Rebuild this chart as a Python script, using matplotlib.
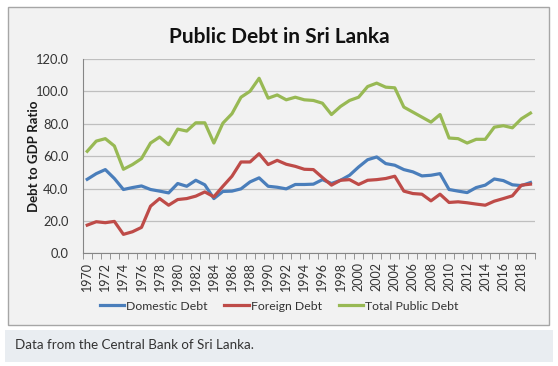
import numpy as np
import matplotlib.pyplot as plt
from matplotlib.patches import Rectangle

# ---------- Datos ----------
years = np.arange(1970, 2020)

domestic = [45.7, 49.2, 51.7, 46.2, 39.4, 40.6, 41.6, 39.4, 38.4, 37.3,
            43.1, 41.4, 45.1, 42.3, 33.8, 38.2, 38.4, 39.8, 44.1, 46.6,
            41.4, 40.8, 39.8, 42.5, 42.5, 42.7, 45.5, 43.1, 45.1, 48.2,
            53.3, 57.8, 59.5, 55.4, 54.4, 51.7, 50.3, 47.8, 48.2, 49.2,
            39.4, 38.4, 37.5, 40.6, 42.1, 45.9, 44.9, 42.3, 41.8, 43.7]

foreign = [17.4, 19.5, 18.9, 19.7, 11.7, 13.3, 16.0, 29.1, 33.8, 29.7,
           33.2, 33.8, 35.3, 37.9, 34.9, 41.4, 47.6, 56.4, 56.4, 61.5,
           54.8, 57.4, 55.0, 53.7, 51.9, 51.7, 46.8, 42.1, 45.1, 45.5,
           42.5, 45.1, 45.5, 46.2, 47.6, 38.4, 36.9, 36.5, 32.4, 36.5,
           31.4, 31.8, 31.2, 30.4, 29.7, 32.2, 33.8, 35.5, 42.1, 42.7]

total = [63.0, 69.3, 70.8, 66.3, 51.9, 54.8, 58.5, 68.1, 71.8, 67.1,
         76.7, 75.5, 80.6, 80.6, 68.1, 80.4, 86.2, 96.4, 100.1, 108.1,
         95.8, 97.8, 94.8, 96.4, 94.8, 94.4, 92.7, 85.7, 90.7, 94.4,
         96.4, 103.0, 105.1, 102.6, 102.2, 90.3, 87.2, 84.1, 81.0, 85.7,
         71.2, 70.8, 68.1, 70.4, 70.4, 77.9, 78.8, 77.5, 83.1, 86.6]

series_names = ["Domestic Debt", "Foreign Debt", "Total Public Debt"]
colors = ["#4a7ebb", "#be4b48", "#98b954"]

plt.rcParams['font.family'] = ['Lato', 'DejaVu Sans']

fig = plt.figure(figsize=(5.58, 3.66), dpi=100)
fig.patch.set_facecolor("white")

# ---------- Marco del gráfico y pie ----------
fig.patches.append(Rectangle((7.5 / 558, 1 - 325 / 366), 541 / 558, 318 / 366,
                             transform=fig.transFigure, facecolor="#f2f2f2",
                             edgecolor="#a6a6a6", linewidth=1.0, zorder=-10))
fig.patches.append(Rectangle((5 / 558, 1 - 362 / 366), 548 / 558, 32 / 366,
                             transform=fig.transFigure, facecolor="#e9edf1",
                             edgecolor="none", zorder=-10))
fig.text(15 / 558, 1 - 345 / 366, "Data from the Central Bank of Sri Lanka.",
         fontsize=9.6, color="#333333", va="center", ha="left")

# ---------- Ejes ----------
ax = fig.add_axes([82.7 / 558, 1 - 253.3 / 366, (535 - 82.7) / 558, (253.3 - 59) / 366])
ax.set_facecolor("none")

for vals, name, col in zip([domestic, foreign, total], series_names, colors):
    ax.plot(years, vals, color=col, lw=2.3, label=name, solid_joinstyle="round")

ax.set_xlim(1969.5, 2019.5)
ax.set_ylim(0, 120)
ax.set_yticks(np.arange(0, 121, 20))
ax.set_yticklabels([f"{v:.1f}" for v in np.arange(0, 121, 20)], fontsize=9.3, color="#333333")
ax.yaxis.grid(True, color="#bfbfbf", lw=0.9)
ax.set_axisbelow(True)
ax.tick_params(axis="y", length=0, pad=10)

ax.set_xticks(years[::2])
ax.set_xticklabels([str(y) for y in years[::2]], rotation=90, fontsize=9, color="#333333")
ax.set_xticks(np.arange(1969.5, 2020, 1), minor=True)
ax.tick_params(axis="x", which="major", length=0, pad=6)
ax.tick_params(axis="x", which="minor", length=4, color="#868686", direction="out")

for s in ["top", "right"]:
    ax.spines[s].set_visible(False)
ax.spines["left"].set_color("#868686")
ax.spines["bottom"].set_color("#868686")

ax.set_ylabel("Debt to GDP Ratio", fontsize=9.5, fontweight="bold", color="#1a1a1a")
ax.yaxis.set_label_coords((40 - 82.7) / 452.3, 0.5)

fig.text(0.5, 1 - 37 / 366, "Public Debt in Sri Lanka", fontsize=15, fontweight="bold",
         ha="center", va="center", color="#111111")

fig.legend(loc="center", bbox_to_anchor=(0.5, 1 - 306 / 366), ncol=3, frameon=False,
           fontsize=8.8, handlelength=2.0, handletextpad=0.15, columnspacing=1.4,
           labelcolor="#333333")

fig.savefig("out.png", dpi=100)
